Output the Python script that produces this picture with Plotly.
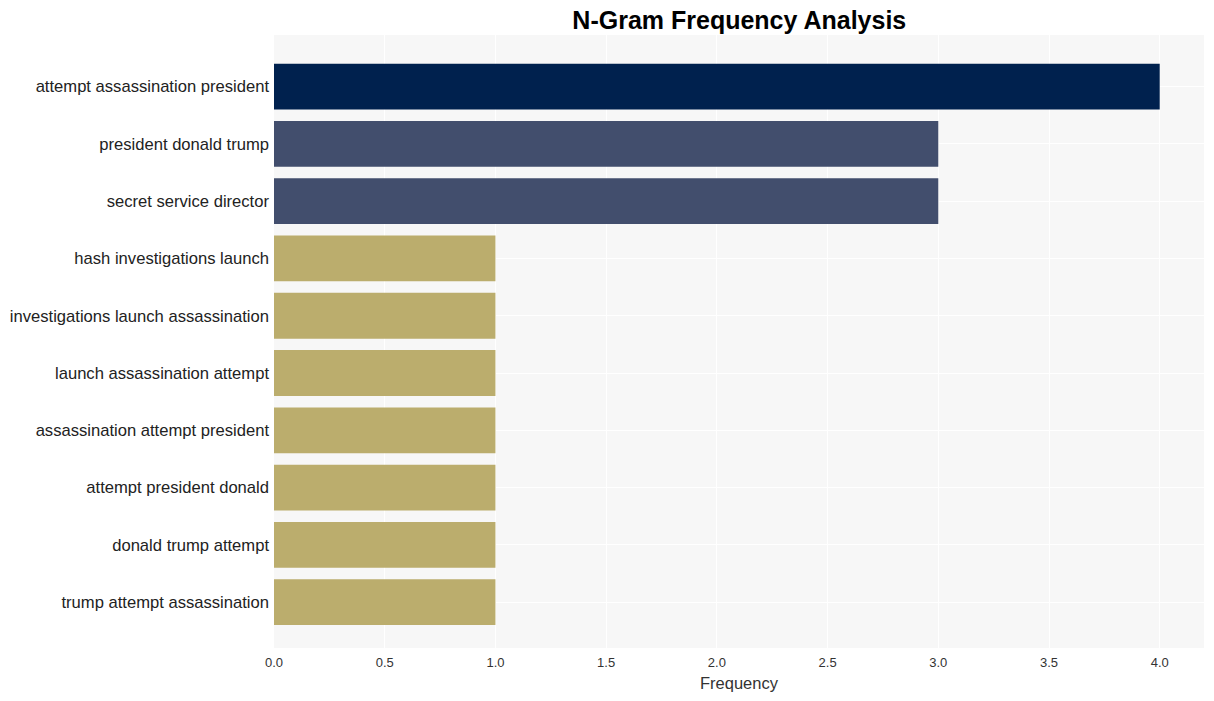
import plotly.graph_objects as go

ngrams = [
    "attempt assassination president",
    "president donald trump",
    "secret service director",
    "hash investigations launch",
    "investigations launch assassination",
    "launch assassination attempt",
    "assassination attempt president",
    "attempt president donald",
    "donald trump attempt",
    "trump attempt assassination",
]
frequency = [4, 3, 3, 1, 1, 1, 1, 1, 1, 1]
bar_colors = ["#00214e", "#424e6d", "#424e6d", "#bbad6d", "#bbad6d",
              "#bbad6d", "#bbad6d", "#bbad6d", "#bbad6d", "#bbad6d"]
x_ticks = [0, 0.5, 1.0, 1.5, 2.0, 2.5, 3.0, 3.5, 4.0]

fig = go.Figure(go.Bar(
    x=frequency,
    y=list(range(len(ngrams))),
    orientation="h",
    marker=dict(color=bar_colors, line=dict(width=0)),
    width=0.8,
))

fig.update_layout(
    width=1214, height=701,
    margin=dict(l=274, r=10, t=35, b=53),
    paper_bgcolor="white",
    plot_bgcolor="#f7f7f7",
    font=dict(family="Liberation Sans, Arial, sans-serif", color="#222"),
    title=dict(text="<b>N-Gram Frequency Analysis</b>", x=0.609, xanchor="center",
               y=0.984, yanchor="top", font=dict(size=25, color="black")),
    showlegend=False,
)
fig.update_xaxes(
    range=[0, 4.2], tickvals=x_ticks,
    ticktext=[f"{v:.1f}" for v in x_ticks],
    showgrid=True, gridcolor="white", gridwidth=1, zeroline=False,
    tickfont=dict(size=13, color="#333"),
    ticklabelstandoff=5,
    title=dict(text="Frequency", font=dict(size=16.5, color="#333"), standoff=8),
    ticks="", showline=False,
)
fig.update_yaxes(
    range=[9.8, -0.9], tickvals=list(range(len(ngrams))), ticktext=ngrams,
    showgrid=True, gridcolor="white", gridwidth=1, zeroline=False,
    tickfont=dict(size=16.6, color="#222"), ticks="", ticklabelstandoff=4,
    showline=False,
)

fig.write_html("out.html")
